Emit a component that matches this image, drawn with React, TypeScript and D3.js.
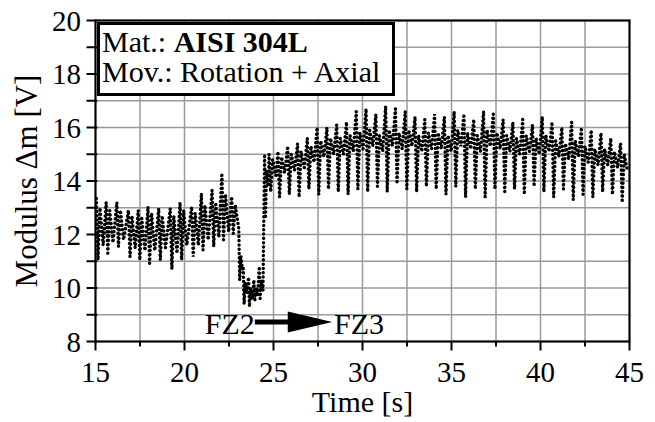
import React from "react";
import * as d3 from "d3";

// Cycle data: time of each oscillation peak, peak value, trough value, two band values
const cycleT = [15.05, 15.6, 16.2, 16.85, 17.4, 17.95, 18.55, 19.2, 19.75, 20.4, 20.95, 21.55, 22.1, 22.65,
  23.05, 23.3, 23.6, 23.9, 24.2, 24.5,
  24.75, 25.25, 25.8, 26.35, 26.9, 27.45, 28.0, 28.55, 29.1, 29.65, 30.2, 30.75, 31.3, 31.85, 32.4, 32.95,
  33.5, 34.05, 34.6, 35.15, 35.7, 36.25, 36.8, 37.35, 37.9, 38.45, 39.0, 39.55, 40.1, 40.65, 41.2, 41.75,
  42.3, 42.85, 43.4, 43.95, 44.5];
const cycleHi = [13.35, 13.2, 13.2, 12.9, 12.9, 13.04, 12.97, 12.97, 13.2, 13.04, 13.54, 13.66, 14.29, 13.41,
  12.2, 10.8, 10.4, 10.3, 10.8, 15.0,
  15.0, 15.1, 15.3, 15.4, 15.6, 16.0, 16.0, 16.1, 16.2, 16.6, 16.7, 16.5, 16.8, 16.7, 16.6, 16.4,
  16.3, 16.5, 16.4, 16.6, 16.5, 16.3, 16.6, 16.5, 16.3, 16.2, 16.3, 16.1, 16.4, 16.2, 16.0, 16.2,
  16.0, 15.9, 15.8, 15.6, 15.4];
const cycleLo = [11.05, 11.3, 11.55, 11.17, 11.05, 10.92, 11.05, 10.7, 11.05, 11.17, 11.42, 11.55, 11.8, 12.04,
  10.3, 9.4, 9.3, 9.5, 9.6, 12.6,
  13.6, 13.4, 13.5, 13.4, 13.7, 13.5, 13.7, 13.6, 13.5, 13.7, 13.6, 13.8, 13.6, 13.9, 13.7, 13.6,
  13.8, 13.7, 13.5, 13.8, 13.4, 13.7, 13.4, 13.7, 13.6, 13.7, 13.5, 13.8, 13.6, 13.4, 13.7, 13.3,
  13.5, 13.4, 13.6, 13.5, 13.2];
const cycleBandA = [13.0, 12.9, 12.9, 12.7, 12.6, 12.8, 12.7, 12.7, 12.9, 12.8, 13.1, 13.2, 13.5, 13.1,
  11.2, 10.2, 10.0, 10.0, 10.3, 14.4,
  14.8, 14.9, 15.0, 15.1, 15.3, 15.5, 15.6, 15.6, 15.7, 15.8, 15.9, 15.7, 15.9, 15.8, 15.9, 15.7,
  15.8, 15.8, 15.7, 15.9, 15.8, 15.7, 15.9, 15.8, 15.7, 15.6, 15.7, 15.6, 15.7, 15.5, 15.4, 15.5,
  15.3, 15.2, 15.2, 15.1, 15.0];
const cycleBandB = [11.6, 11.7, 11.8, 11.5, 11.4, 11.4, 11.5, 11.3, 11.6, 11.6, 11.8, 11.9, 12.1, 12.3,
  10.7, 9.8, 9.6, 9.7, 9.9, 13.8,
  14.2, 14.3, 14.4, 14.5, 14.7, 14.9, 15.0, 15.0, 15.1, 15.2, 15.3, 15.1, 15.3, 15.2, 15.3, 15.1,
  15.2, 15.2, 15.1, 15.3, 15.2, 15.1, 15.3, 15.2, 15.1, 15.0, 15.1, 15.0, 15.1, 14.9, 14.8, 14.9,
  14.7, 14.6, 14.6, 14.5, 14.4];

const xTicks = [15, 20, 25, 30, 35, 40, 45];
const xMinor = [17.5, 22.5, 27.5, 32.5, 37.5, 42.5];
const xGrid = [17.5, 20, 22.5, 25, 27.5, 30, 32.5, 35, 37.5, 40, 42.5];
const yTicks = [8, 10, 12, 14, 16, 18, 20];
const yGrid = [9, 10, 11, 12, 13, 14, 15, 16, 17, 18, 19];

const FONT = "'Liberation Serif', 'Times New Roman', serif";

export default function App() {
  const W = 655, H = 422;
  const x = d3.scaleLinear().domain([15, 45]).range([95.5, 629.5]);
  const y = d3.scaleLinear().domain([8, 20]).range([341.5, 20.5]);

  const pts: [number, number][] = [];
  cycleT.forEach((t, i) => {
    const fast = t >= 23 && t < 24.6;
    const s = fast ? 0.55 : 1;
    pts.push([t, cycleHi[i]]);
    pts.push([Math.min(t + 0.09 * s, 45), cycleLo[i]]);
    pts.push([Math.min(t + 0.2 * s, 45), cycleBandA[i]]);
    pts.push([Math.min(t + 0.38 * s, 45), cycleBandB[i]]);
  });
  const line = d3.line<[number, number]>().x(d => x(d[0])).y(d => y(d[1]));
  const path = line(pts) || "";

  return (
    <svg width={W} height={H} style={{ position: "absolute", left: 0, top: 0, background: "#fff" }}>
      <rect x={0} y={0} width={W} height={H} fill="#fff" />
      {xGrid.map(v => (
        <line key={"gx" + v} x1={x(v)} x2={x(v)} y1={y(20)} y2={y(8)} stroke="#9a9a9a" strokeWidth={1.5} />
      ))}
      {yGrid.map(v => (
        <line key={"gy" + v} x1={x(15)} x2={x(45)} y1={y(v)} y2={y(v)} stroke="#9a9a9a" strokeWidth={1.5} />
      ))}
      <path d={path} fill="none" stroke="#000" strokeWidth={3.4} strokeLinecap="round"
        strokeDasharray="0.1 4.2" />
      <rect x={98.5} y={23.5} width={295} height={71} fill="#fff" stroke="#000" strokeWidth={3} />
      <text x={102} y={52} fontFamily={FONT} fontSize={30} fill="#000">
        Mat.: <tspan fontWeight="bold">AISI 304L</tspan>
      </text>
      <text x={102} y={82} fontFamily={FONT} fontSize={30} fill="#000">Mov.: Rotation + Axial</text>
      <rect x={x(15)} y={y(20)} width={x(45) - x(15)} height={y(8) - y(20)} fill="none" stroke="#000" strokeWidth={2.2} />
      {xTicks.map(v => (
        <g key={"xt" + v}>
          <line x1={x(v)} x2={x(v)} y1={y(8)} y2={y(8) + 9} stroke="#000" strokeWidth={2} />
          <text x={x(v)} y={382} textAnchor="middle" fontFamily={FONT} fontSize={29} fill="#000">{v}</text>
        </g>
      ))}
      {xMinor.map(v => (
        <line key={"xm" + v} x1={x(v)} x2={x(v)} y1={y(8)} y2={y(8) + 5} stroke="#000" strokeWidth={2} />
      ))}
      {yGrid.concat([8, 20]).map(v => (
        <line key={"yt" + v} x1={x(15) - 9} x2={x(15) + 2} y1={y(v)} y2={y(v)} stroke="#000" strokeWidth={2} />
      ))}
      {yTicks.map(v => (
        <text key={"yl" + v} x={81} y={y(v)} dy="0.35em" textAnchor="end" fontFamily={FONT} fontSize={29} fill="#000">{v}</text>
      ))}
      <text x={(x(15) + x(45)) / 2} y={412} textAnchor="middle" fontFamily={FONT} fontSize={30} fill="#000">Time [s]</text>
      <text transform={`translate(37,${(y(8) + y(20)) / 2}) rotate(-90)`} textAnchor="middle" fontFamily={FONT} fontSize={31} fill="#000">Modulus Δm [V]</text>
      <text x={x(23.95)} y={334} textAnchor="end" fontFamily={FONT} fontSize={30} fill="#000">FZ2</text>
      <line x1={x(23.95)} x2={x(26.0)} y1={y(8.73)} y2={y(8.73)} stroke="#000" strokeWidth={5} />
      <polygon points={`${x(25.8)},${y(8.73) - 10.5} ${x(28.3)},${y(8.73)} ${x(25.8)},${y(8.73) + 10.5}`} fill="#000" />
      <text x={x(28.4)} y={334} fontFamily={FONT} fontSize={30} fill="#000">FZ3</text>
    </svg>
  );
}
